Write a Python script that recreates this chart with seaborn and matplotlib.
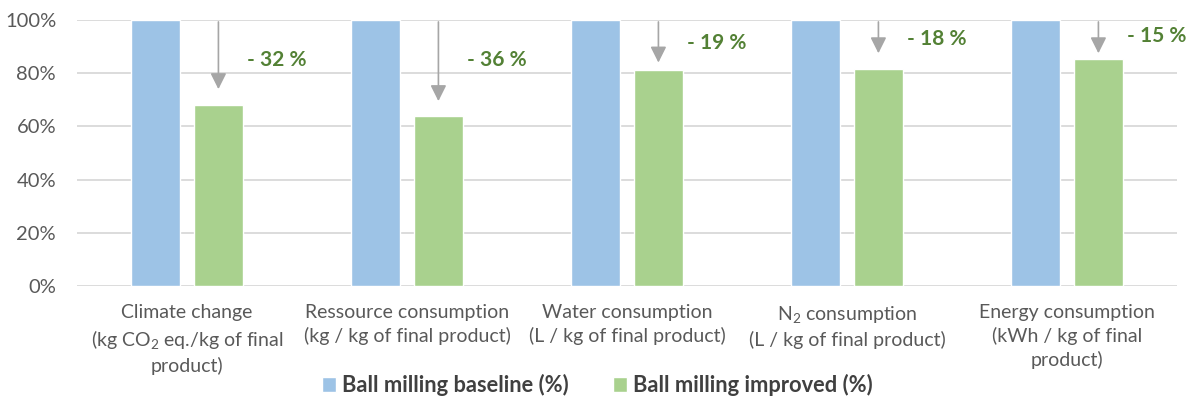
import matplotlib
matplotlib.use("Agg")
import matplotlib.pyplot as plt
import seaborn as sns
import pandas as pd
from matplotlib.ticker import PercentFormatter

categories = [
    "Climate change\n(kg CO$_2$ eq./kg of final\nproduct)",
    "Ressource consumption\n(kg / kg of final product)",
    "Water consumption\n(L / kg of final product)",
    "N$_2$ consumption\n(L / kg of final product)",
    "Energy consumption\n(kWh / kg of final\nproduct)",
]
series_names = ["Ball milling baseline (%)", "Ball milling improved (%)"]
baseline = [100, 100, 100, 100, 100]
improved = [68, 64, 81.3, 81.5, 85.2]
reduction_labels = ["- 32 %", "- 36 %", "- 19 %", "- 18 %", "- 15 %"]

# annotation layout (positions only)
arrow_tips = [74, 69.5, 84, 87.5, 87.5]
label_y = [85, 85, 91.5, 93, 94]

sns.set_theme(style="white")
plt.rcParams["font.family"] = ["Lato", "DejaVu Sans"]
plt.rcParams["mathtext.fontset"] = "custom"
plt.rcParams["mathtext.rm"] = "Lato"
plt.rcParams["mathtext.it"] = "Lato:italic"
plt.rcParams["mathtext.bf"] = "Lato:bold"

df = pd.DataFrame({
    "category": categories * 2,
    "series": [series_names[0]] * 5 + [series_names[1]] * 5,
    "value": baseline + improved,
})

fig = plt.figure(figsize=(11.95, 4.01), dpi=100)
ax = fig.add_axes([0.0644, 0.287, 0.9205, 0.663])

sns.barplot(data=df, x="category", y="value", hue="series",
            palette=["#9DC3E6", "#A9D18E"], width=0.573, gap=0.23,
            saturation=1, ax=ax, legend=True, errorbar=None)

ax.set_ylim(0, 100)
ax.set_xlim(-0.5, 4.5)
ax.set_yticks([0, 20, 40, 60, 80, 100])
ax.yaxis.set_major_formatter(PercentFormatter(100, decimals=0))
ax.grid(axis="y", color="#D9D9D9", linewidth=1.3)
ax.set_axisbelow(True)
for s in ax.spines.values():
    s.set_visible(False)
ax.set_xlabel("")
ax.set_ylabel("")
ax.tick_params(axis="y", labelsize=14.5, labelcolor="#595959", length=0, pad=15)
ax.tick_params(axis="x", labelsize=14, labelcolor="#595959", length=0, pad=13)
for lab in ax.get_xticklabels():
    lab.set_linespacing(1.4)

off = 0.143
for i in range(len(categories)):
    gx = i + off
    ax.annotate("", xy=(gx, arrow_tips[i]), xytext=(gx, 99.3),
                arrowprops=dict(arrowstyle="-|>", color="#A6A6A6", lw=1.2,
                                mutation_scale=24, shrinkA=0, shrinkB=0))
    ax.text(gx + 0.13, label_y[i], reduction_labels[i], color="#538135",
            fontsize=15, fontweight="bold", ha="left", va="center")

handles, labels = ax.get_legend_handles_labels()
ax.legend_.remove()
fig.legend(handles, labels, loc="center", bbox_to_anchor=(0.5, 0.04), ncol=2,
           frameon=False, handlelength=0.64, handleheight=0.64, handletextpad=0.3,
           columnspacing=2.0, prop={"weight": "bold", "size": 15.75},
           labelcolor="#404040")

fig.savefig("out.png", dpi=100)
